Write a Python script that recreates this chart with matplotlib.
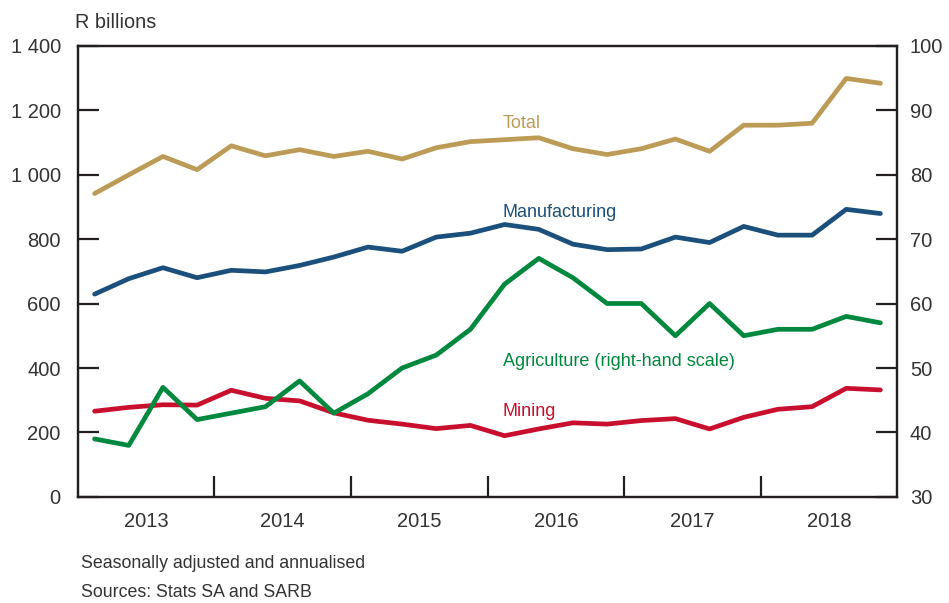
import numpy as np
import matplotlib
matplotlib.use("Agg")
import matplotlib.pyplot as plt

# Quarterly data, 2013Q1 - 2018Q4
years = [2013, 2014, 2015, 2016, 2017, 2018]
total = [941, 999, 1056, 1015, 1089, 1058, 1077, 1056, 1072, 1048, 1083, 1102,
         1108, 1114, 1080, 1062, 1080, 1110, 1072, 1153, 1153, 1159, 1298, 1283]
manufacturing = [629, 677, 711, 680, 703, 698, 718, 744, 775, 762, 806, 818,
                 845, 830, 784, 767, 769, 806, 789, 839, 812, 812, 892, 879]
mining = [266, 278, 286, 285, 331, 306, 298, 261, 238, 226, 212, 222,
          190, 211, 230, 226, 237, 243, 211, 247, 272, 280, 337, 332]
agriculture = [39, 38, 47, 42, 43, 44, 48, 43, 46, 50, 52, 56,
               63, 67, 64, 60, 60, 55, 60, 55, 56, 56, 58, 57]

plt.rcParams['font.family'] = ['Liberation Sans', 'DejaVu Sans']

gold = '#BC9B56'
blue = '#1B4F7C'
green = '#00883F'
red = '#C8102E'
txt = '#333333'

x = 2013 + (np.arange(len(total)) + 0.5) / 4

fig = plt.figure(figsize=(9.49, 6.03), dpi=100)
ax = fig.add_axes([0.0817, 0.1758, 0.8640, 0.7487])
ax2 = ax.twinx()

lw = 3.4
ax.plot(x, total, color=gold, lw=lw, solid_capstyle='round', zorder=3)
ax.plot(x, manufacturing, color=blue, lw=lw, solid_capstyle='round', zorder=3)
ax.plot(x, mining, color=red, lw=lw, solid_capstyle='round', zorder=3)
ax2.plot(x, agriculture, color=green, lw=lw, solid_capstyle='round', zorder=2)

ax.set_xlim(2013, 2019)
ax.set_ylim(0, 1400)
ax2.set_ylim(30, 100)

ax.set_yticks(range(0, 1401, 200))
ax.set_yticklabels([f"{v:,}".replace(",", " ") for v in range(0, 1401, 200)])
ax2.set_yticks(range(30, 101, 10))

ax.set_xticks(years[1:])
ax.set_xticklabels([])
ax.set_xticks([y + 0.5 for y in years], minor=True)
ax.set_xticklabels([str(y) for y in years], minor=True)

for a in (ax, ax2):
    for s in a.spines.values():
        s.set_linewidth(1.6)
        s.set_color('#231F20')
ax.tick_params(axis='x', which='major', direction='in', length=15, width=1.6, color='#231F20')
ax.tick_params(axis='x', which='minor', length=0, pad=11, labelsize=14.5, labelcolor=txt)
ax.tick_params(axis='y', direction='in', length=15, width=1.6, color='#231F20',
               pad=12, labelsize=14.5, labelcolor=txt)
ax2.tick_params(axis='y', direction='in', length=15, width=1.6, color='#231F20',
                pad=9, labelsize=14.5, labelcolor=txt)

lx = 2016.11
ax.text(lx, 1158, "Total", color=gold, fontsize=13, ha='left', va='center')
ax.text(lx, 882, "Manufacturing", color=blue, fontsize=13, ha='left', va='center')
ax.text(lx, 420, "Agriculture (right-hand scale)", color=green, fontsize=13,
        ha='left', va='center')
ax.text(lx, 265, "Mining", color=red, fontsize=13, ha='left', va='center')

fig.text(0.079, 0.963, "R billions", color=txt, fontsize=14.3, ha='left', va='center')
fig.text(0.085, 0.065, "Seasonally adjusted and annualised", color=txt, fontsize=12.8,
         ha='left', va='center')
fig.text(0.085, 0.018, "Sources: Stats SA and SARB", color=txt, fontsize=12.8,
         ha='left', va='center')

fig.savefig("out.png", dpi=100)
